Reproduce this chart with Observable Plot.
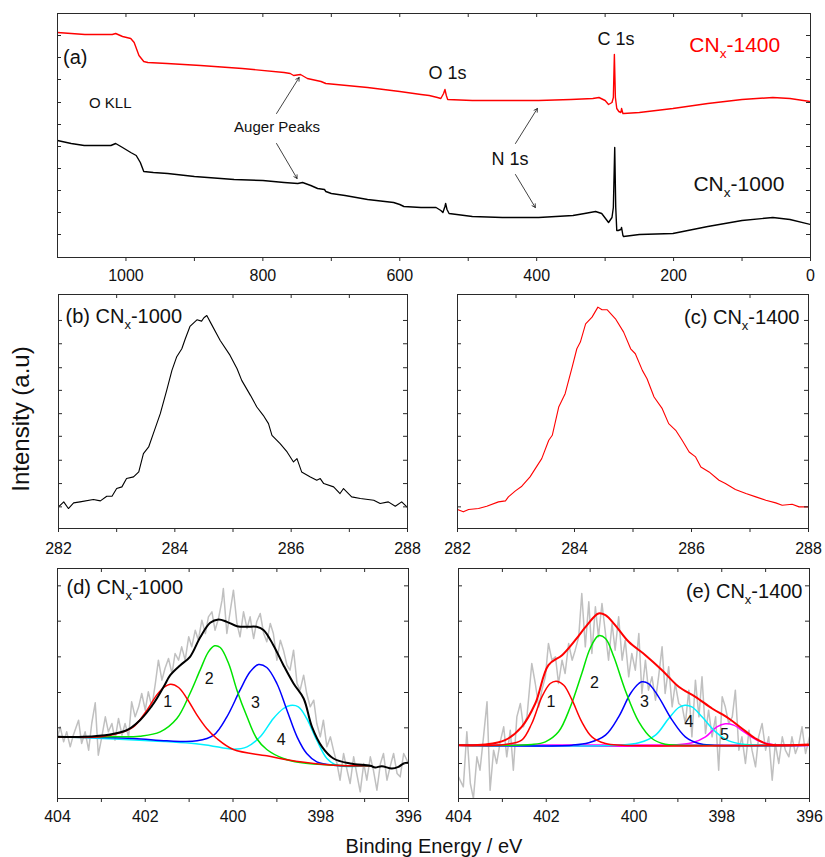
<!DOCTYPE html>
<html>
<head>
<meta charset="utf-8">
<script src="https://cdn.jsdelivr.net/npm/d3@7"></script>
<script src="https://cdn.jsdelivr.net/npm/@observablehq/plot@0.6"></script>
<style>
  html, body { margin: 0; padding: 0; background: #fff; overflow: hidden; }
  #wrap { position: relative; width: 825px; height: 857px; overflow: hidden; }
</style>
</head>
<body>
<div id="wrap"></div>
<script>
// ---------------- DATA ----------------
// Panel (a): XPS survey, binding energy (eV) vs intensity (a.u.)
const survey1400 = [[1100,225],[1080,224],[1060,223],[1040,223],[1020,223],[1015,224],[1005,221],[993,219],[988,215],[981,202],[974,196],[968,195],[940,194],[891,192],[830,189],[769,185],[760,184],[755,182],[745,183],[735,179],[715,176],[708,174],[647,170],[600,166],[569,163],[557,162],[545,160],[540,159],[536,164],[534,168],[532,162],[530,158],[494,157],[450,157],[397,157],[350,158],[318,159],[309,160],[300,157],[295,153],[290,155],[288,160],[286.5,203],[285,160],[283,149],[280,146],[277,145],[276,149],[274,144],[273,144],[250,145],[201,149],[150,154],[100,158],[55,160],[30,159],[0,156]];
const survey1000 = [[1100,117],[1080,114],[1061,112],[1040,112],[1022,112],[1015,114],[1005,110],[993,105],[985,102],[979,95],[974,86],[960,85],[939,84],[900,81],[842,78],[800,77],[769,75],[749,74],[742,75],[730,72],[720,69],[710,68],[708,66],[700,64],[680,62],[647,58],[609,55],[600,53],[594,51],[569,50],[547,50],[540,47],[537,45],[534,51],[533,54],[531,48],[528,44],[494,41],[450,40],[397,40],[347,42],[330,44],[314,46],[305,44],[295,35],[290,40],[288,50],[286,110],[284.5,50],[283,27],[281,27],[277,28],[276,30],[274,22],[273,21],[250,23],[201,24],[150,31],[100,37],[55,40],[30,38],[0,33]];
const surveyTicks = [1000,800,600,400,200,0];
const surveyMinor = [900,700,500,300,100];
const surveyYTicks = [23,45,67,89,111,133,155,178,200,222];
const surveyNotes = [["(a)",1092,194],["O KLL",1054,150],["Auger Peaks",842,126]];
const peakNotes = [["O 1s",558,179],["C 1s",311,213],["N 1s",466,93]];
const sampleNotes = [["CN_x-1400",177,206],["CN_x-1000",171,67]];
const augerArrows = [[780,144,747,180],[780,114,750,79],[431,114,399,149],[431,83,402,50]];

// Panels (b), (c): C 1s
const c1s1000 = [[282.00,65],[282.09,80],[282.17,60],[282.26,77],[282.37,80],[282.60,87],[282.72,83],[282.83,97],[282.92,97],[283.00,120],[283.09,125],[283.17,150],[283.29,155],[283.38,170],[283.46,225],[283.55,245],[283.63,285],[283.75,345],[283.86,415],[283.95,475],[284.03,515],[284.12,540],[284.18,570],[284.26,607],[284.38,627],[284.46,623],[284.50,633],[284.55,640],[284.61,620],[284.78,565],[284.95,520],[285.07,480],[285.15,445],[285.30,400],[285.41,365],[285.52,340],[285.61,315],[285.67,280],[285.81,255],[285.93,230],[286.04,200],[286.10,210],[286.18,170],[286.33,155],[286.44,145],[286.50,150],[286.56,135],[286.73,125],[286.84,105],[286.90,120],[287.04,95],[287.19,90],[287.42,85],[287.53,75],[287.67,80],[287.79,67],[287.90,80],[288.00,63]];
const c1s1400 = [[282.00,57],[282.10,50],[282.19,57],[282.36,60],[282.50,67],[282.70,80],[282.82,83],[282.87,95],[282.99,113],[283.10,127],[283.24,155],[283.33,180],[283.44,210],[283.56,265],[283.62,280],[283.73,365],[283.84,405],[283.96,485],[284.04,540],[284.10,560],[284.19,615],[284.30,635],[284.40,665],[284.47,657],[284.56,657],[284.70,630],[284.84,590],[284.96,540],[285.04,525],[285.16,475],[285.24,450],[285.36,395],[285.50,360],[285.61,315],[285.73,295],[285.84,265],[285.96,230],[286.07,215],[286.16,185],[286.30,170],[286.47,145],[286.58,135],[286.75,117],[286.93,105],[287.10,95],[287.27,85],[287.44,77],[287.55,70],[287.72,73],[287.84,65],[288.00,65]];
const c1sTicks = [282,284,286,288];
const c1sMinor = [283,285,287];
const c1sYTicks = [65,135,205,277,345,415,483,555,625];

// Panel (d): N 1s CNx-1000
const n1s1000Raw = [[404.00,185],[403.94,215],[403.86,170],[403.79,200],[403.71,155],[403.64,190],[403.52,235],[403.45,165],[403.37,200],[403.29,145],[403.22,225],[403.14,287],[403.07,130],[402.99,185],[402.91,245],[402.84,200],[402.76,225],[402.69,175],[402.61,240],[402.53,190],[402.46,225],[402.38,185],[402.31,290],[402.23,245],[402.15,275],[402.08,315],[402.00,265],[401.93,320],[401.85,275],[401.77,345],[401.70,415],[401.62,355],[401.55,390],[401.47,420],[401.39,375],[401.32,435],[401.24,415],[401.17,455],[401.09,415],[401.01,485],[400.94,455],[400.86,505],[400.79,475],[400.71,535],[400.63,495],[400.56,545],[400.48,560],[400.41,505],[400.33,540],[400.25,595],[400.22,630],[400.14,495],[400.06,565],[399.99,625],[399.91,525],[399.84,485],[399.76,560],[399.68,510],[399.61,545],[399.53,480],[399.46,530],[399.38,555],[399.30,495],[399.23,470],[399.15,525],[399.08,495],[399.00,415],[398.92,475],[398.85,445],[398.77,400],[398.70,385],[398.62,445],[398.54,345],[398.47,325],[398.39,370],[398.32,315],[398.24,275],[398.16,295],[398.09,225],[398.01,185],[397.94,235],[397.86,155],[397.78,185],[397.71,145],[397.63,105],[397.56,55],[397.48,135],[397.40,85],[397.33,45],[397.25,125],[397.18,75],[397.10,20],[397.02,105],[396.95,55],[396.87,125],[396.80,85],[396.72,25],[396.64,105],[396.57,135],[396.49,55],[396.42,95],[396.34,135],[396.26,75],[396.19,65],[396.11,135],[396.00,105]];
const n1s1000Fit = [[404.00,185],[403.41,185],[402.80,192],[402.42,205],[402.12,235],[401.81,285],[401.58,335],[401.43,370],[401.20,400],[400.98,425],[400.75,483],[400.52,527],[400.33,537],[400.14,530],[399.91,517],[399.68,515],[399.46,515],[399.30,505],[399.08,460],[398.85,400],[398.62,345],[398.39,300],[398.20,215],[397.97,155],[397.71,120],[397.33,105],[396.87,98],[396.76,93],[396.61,97],[396.38,90],[396.23,95],[396.11,105],[396.00,107]];
const n1s1000Peak1 = [[404.00,185],[403.03,185],[402.57,197],[402.27,215],[401.96,265],[401.74,310],[401.58,333],[401.42,343],[401.24,333],[401.05,300],[400.82,250],[400.60,210],[400.37,180],[399.99,147],[399.23,128],[398.47,110],[397.71,100],[396.87,98]];
const n1s1000Peak2 = [[404.00,185],[402.65,185],[402.12,187],[401.66,200],[401.28,240],[400.98,315],[400.75,385],[400.56,440],[400.42,458],[400.29,453],[400.10,405],[399.91,325],[399.68,245],[399.46,180],[399.23,147],[398.85,120],[398.47,108],[397.71,100],[396.87,98]];
const n1s1000Peak3 = [[404.00,185],[402.27,180],[401.51,173],[400.82,173],[400.44,190],[400.14,245],[399.84,325],[399.61,380],[399.42,402],[399.23,393],[399.00,345],[398.77,265],[398.54,185],[398.32,135],[398.09,110],[397.71,100],[396.87,98]];
const n1s1000Peak4 = [[404.00,185],[400.75,163],[399.99,148],[399.68,155],[399.38,185],[399.08,240],[398.85,270],[398.70,279],[398.51,275],[398.32,240],[398.09,175],[397.86,120],[397.63,100],[396.87,98]];
const n1s1000Labels = [["1",401.49,290],["2",400.54,360],["3",399.49,288],["4",398.90,177]];

// Panel (e): N 1s CNx-1400
const n1s1400Raw = [[404.00,65],[403.89,35],[403.81,200],[403.73,45],[403.66,0],[403.58,125],[403.51,85],[403.43,185],[403.35,290],[403.28,25],[403.20,145],[403.13,105],[403.05,170],[402.97,215],[402.90,125],[402.82,205],[402.75,85],[402.67,245],[402.59,285],[402.52,215],[402.44,245],[402.33,405],[402.25,345],[402.17,275],[402.10,325],[402.02,365],[401.95,465],[401.87,415],[401.79,425],[401.72,345],[401.64,415],[401.57,375],[401.49,465],[401.41,415],[401.34,445],[401.26,485],[401.19,615],[401.11,455],[401.03,590],[400.96,435],[400.88,575],[400.81,485],[400.73,585],[400.65,495],[400.58,415],[400.50,525],[400.43,445],[400.35,545],[400.27,415],[400.20,475],[400.12,365],[400.05,435],[399.97,385],[399.89,495],[399.82,315],[399.74,415],[399.67,325],[399.59,365],[399.51,295],[399.44,365],[399.36,455],[399.29,315],[399.21,395],[399.13,275],[399.06,345],[398.98,285],[398.90,275],[398.83,225],[398.75,325],[398.68,185],[398.60,355],[398.52,245],[398.45,365],[398.37,195],[398.30,265],[398.22,185],[398.14,245],[398.07,85],[397.99,305],[397.92,275],[397.84,225],[397.76,245],[397.69,325],[397.61,145],[397.54,185],[397.46,105],[397.38,205],[397.31,145],[397.23,95],[397.16,185],[397.08,225],[397.00,145],[396.93,185],[396.85,55],[396.78,165],[396.70,105],[396.62,185],[396.55,145],[396.47,125],[396.40,185],[396.32,135],[396.24,165],[396.17,215],[396.09,135],[396.00,185]];
const n1s1400Fit = [[404.00,160],[403.39,162],[402.94,175],[402.56,215],[402.25,285],[401.95,400],[401.64,430],[401.34,475],[401.07,520],[400.81,555],[400.65,550],[400.43,520],[400.12,470],[399.74,430],[399.36,385],[398.98,335],[398.60,305],[398.22,270],[397.84,240],[397.54,210],[397.23,180],[396.93,162],[396.47,160],[396.00,162]];
const n1s1400Base = [[404.00,160],[396.00,160]];
const n1s1400Peak1 = [[404.00,160],[402.94,162],[402.56,175],[402.33,225],[402.10,305],[401.91,345],[401.77,352],[401.60,340],[401.41,295],[401.19,230],[400.96,185],[400.65,165],[400.27,160],[396.00,160]];
const n1s1400Peak2 = [[404.00,160],[402.33,162],[402.02,170],[401.72,200],[401.45,275],[401.19,375],[401.00,450],[400.81,488],[400.65,480],[400.46,425],[400.20,325],[399.89,230],[399.59,180],[399.29,163],[398.98,160],[396.00,160]];
const n1s1400Peak3 = [[404.00,160],[401.41,160],[401.03,167],[400.65,190],[400.35,245],[400.08,315],[399.89,345],[399.82,350],[399.67,345],[399.44,305],[399.13,235],[398.83,185],[398.52,165],[398.22,160],[396.00,160]];
const n1s1400Peak4 = [[404.00,160],[400.35,160],[399.89,167],[399.51,190],[399.21,240],[398.98,273],[398.84,280],[398.68,275],[398.45,245],[398.14,200],[397.84,173],[397.46,162],[396.81,160]];
const n1s1400Peak5 = [[404.00,160],[399.13,160],[398.68,167],[398.37,185],[398.11,215],[397.92,224],[397.73,220],[397.46,197],[397.16,173],[396.85,162],[396.00,160]];
const n1s1400Labels = [["1",401.89,290],["2",400.90,348],["3",399.76,290],["4",398.75,230],["5",397.94,190]];

const n1sTicks = [404,402,400,398,396];
const n1sMinor = [403,401,399,397];
const n1sYTicks = [105,212,318,425,532,638];

const panelTitles = ["(b) CN_x-1000","(c) CN_x-1400","(d) CN_x-1000","(e) CN_x-1400"];
const xTitle = "Binding Energy / eV";
const yTitle = "Intensity (a.u)";

// ---------------- DRAWING ----------------
const FONT = "'Liberation Sans', Arial, Helvetica, sans-serif";
const AXIS = "#2a2a2a";
const GREEN = "#00e400";
const CYAN = "#00f0ff";
const wrap = document.getElementById("wrap");
const pts = arr => arr.map(([e, i]) => ({e, i}));

function subscriptX(svg) {
  const ns = "http://www.w3.org/2000/svg";
  svg.querySelectorAll("text").forEach(t => {
    const s = t.textContent;
    if (!s.includes("_x")) return;
    const [a, b] = s.split("_x");
    while (t.firstChild) t.removeChild(t.firstChild);
    const t1 = document.createElementNS(ns, "tspan"); t1.textContent = a;
    const t2 = document.createElementNS(ns, "tspan"); t2.textContent = "x";
    t2.setAttribute("font-size", "65%"); t2.setAttribute("dy", "0.5em");
    const t3 = document.createElementNS(ns, "tspan"); t3.textContent = b;
    t3.setAttribute("dy", "-0.325em");
    t.append(t1, t2, t3);
  });
}

function panel({fx, fy, fw, fh, xDomain, yDomain, major, minor, yTicks, pad, ml = 26, mr = 14, marks}) {
  const mt = 6, mb = 36;
  const chart = Plot.plot({
    width: fw + ml + mr, height: fh + mt + mb,
    marginLeft: ml, marginRight: mr, marginTop: mt, marginBottom: mb,
    style: {fontFamily: FONT, fontSize: "16px", color: "#111", background: "transparent", overflow: "visible"},
    x: {domain: xDomain},
    y: {domain: yDomain, axis: null},
    marks: [
      ...marks,
      Plot.tickX(major.concat(minor), {x: d => d, insetBottom: fh - 4, stroke: AXIS}),
      Plot.tickY(yTicks, {y: d => d, insetRight: fw - 4, stroke: AXIS}),
      Plot.tickY(yTicks, {y: d => d, insetLeft: fw - 4, stroke: AXIS}),
      Plot.axisX({ticks: major, tickSize: 4, tickPadding: pad, tickFormat: d => String(d), fontSize: 16, label: null, stroke: AXIS}),
      Plot.axisX({ticks: minor, tickSize: 4, tickFormat: () => "", label: null, stroke: AXIS}),
      Plot.frame({stroke: AXIS, strokeWidth: 1})
    ]
  });
  chart.style.position = "absolute";
  chart.style.left = (fx - ml) + "px";
  chart.style.top = (fy - mt) + "px";
  wrap.appendChild(chart);
  subscriptX(chart);
}

const line = (arr, stroke, w, extra = {}) =>
  Plot.line(pts(arr), {x: "e", y: "i", stroke, strokeWidth: w, clip: true, ...extra});
const note = (arr, opts) =>
  Plot.text(arr, {x: d => d[1], y: d => d[2], text: d => d[0], textAnchor: "start", lineAnchor: "bottom", ...opts});

// (a) survey
panel({
  fx: 57, fy: 13, fw: 753, fh: 244, xDomain: [1100, 0], yDomain: [0, 244],
  major: surveyTicks, minor: surveyMinor, yTicks: surveyYTicks, pad: 8, ml: 30, mr: 12,
  marks: [
    line(survey1000, "#000", 1.4),
    line(survey1400, "#ff0000", 1.4),
    Plot.arrow(augerArrows, {x1: d => d[0], y1: d => d[1], x2: d => d[2], y2: d => d[3], stroke: "#111", strokeWidth: 0.8, headLength: 7}),
    note(surveyNotes.slice(0, 1), {fontSize: 20, fill: "#111"}),
    note(surveyNotes.slice(1), {fontSize: 15, fill: "#111"}),
    note(peakNotes, {fontSize: 18, fill: "#111"}),
    note(sampleNotes.slice(0, 1), {fontSize: 21, fill: "#ff0000"}),
    note(sampleNotes.slice(1), {fontSize: 21, fill: "#111"})
  ]
});

// (b) C 1s CNx-1000
panel({
  fx: 58, fy: 294, fw: 349, fh: 234, xDomain: [282, 288], yDomain: [0, 703],
  major: c1sTicks, minor: c1sMinor, yTicks: c1sYTicks, pad: 10, mr: 20,
  marks: [
    line(c1s1000, "#000", 1.1),
    Plot.text([panelTitles[0]], {text: d => d, frameAnchor: "top-left", dx: 7, dy: 28, lineAnchor: "bottom", textAnchor: "start", fontSize: 20, fill: "#111"})
  ]
});

// (c) C 1s CNx-1400
panel({
  fx: 457, fy: 294, fw: 351, fh: 234, xDomain: [282, 288], yDomain: [0, 703],
  major: c1sTicks, minor: c1sMinor, yTicks: c1sYTicks, pad: 10,
  marks: [
    line(c1s1400, "#ff0000", 1.1),
    Plot.text([panelTitles[1]], {text: d => d, frameAnchor: "top-right", dx: -9, dy: 29, lineAnchor: "bottom", textAnchor: "end", fontSize: 20, fill: "#111"})
  ]
});

// (d) N 1s CNx-1000
panel({
  fx: 57, fy: 568, fw: 351, fh: 230, xDomain: [404, 396], yDomain: [0, 690],
  major: n1sTicks, minor: n1sMinor, yTicks: n1sYTicks, pad: 8, mr: 20,
  marks: [
    line(n1s1000Raw, "#c0c0c0", 1.5),
    line(n1s1000Peak4, CYAN, 1.5, {curve: "catmull-rom"}),
    line(n1s1000Peak3, "#0000ff", 1.5, {curve: "catmull-rom"}),
    line(n1s1000Peak2, GREEN, 1.5, {curve: "catmull-rom"}),
    line(n1s1000Peak1, "#ff0000", 1.5, {curve: "catmull-rom"}),
    line(n1s1000Fit, "#000", 2, {curve: "catmull-rom"}),
    Plot.text(n1s1000Labels, {x: d => d[1], y: d => d[2], text: d => d[0], fontSize: 16, fill: "#111"}),
    Plot.text([panelTitles[2]], {text: d => d, frameAnchor: "top-left", dx: 9, dy: 25, lineAnchor: "bottom", textAnchor: "start", fontSize: 20, fill: "#111"})
  ]
});

// (e) N 1s CNx-1400
panel({
  fx: 458, fy: 568, fw: 351, fh: 230, xDomain: [404, 396], yDomain: [0, 690],
  major: n1sTicks, minor: n1sMinor, yTicks: n1sYTicks, pad: 8,
  marks: [
    line(n1s1400Raw, "#c0c0c0", 1.5),
    line(n1s1400Base, "#ff00ff", 2),
    line(n1s1400Peak5, "#ff00ff", 1.5, {curve: "catmull-rom"}),
    line(n1s1400Peak4, CYAN, 1.5, {curve: "catmull-rom"}),
    line(n1s1400Peak3, "#0000ff", 1.5, {curve: "catmull-rom"}),
    line(n1s1400Peak2, GREEN, 1.5, {curve: "catmull-rom"}),
    line(n1s1400Peak1, "#ff0000", 1.5, {curve: "catmull-rom"}),
    line(n1s1400Fit, "#ff0000", 2, {curve: "catmull-rom"}),
    Plot.text(n1s1400Labels, {x: d => d[1], y: d => d[2], text: d => d[0], fontSize: 16, fill: "#111"}),
    Plot.text([panelTitles[3]], {text: d => d, frameAnchor: "top-right", dx: -7, dy: 29, lineAnchor: "bottom", textAnchor: "end", fontSize: 20, fill: "#111"})
  ]
});

// shared axis titles
const ov = d3.create("svg").attr("width", 825).attr("height", 857)
  .style("position", "absolute").style("left", "0px").style("top", "0px")
  .style("font-family", FONT).style("pointer-events", "none");
ov.append("text").attr("x", 434).attr("y", 853).attr("text-anchor", "middle")
  .attr("font-size", 20).attr("fill", "#111").text(xTitle);
ov.append("text").attr("transform", "translate(29,419) rotate(-90)").attr("text-anchor", "middle")
  .attr("font-size", 24).attr("fill", "#111").text(yTitle);
wrap.appendChild(ov.node());
</script>
</body>
</html>
